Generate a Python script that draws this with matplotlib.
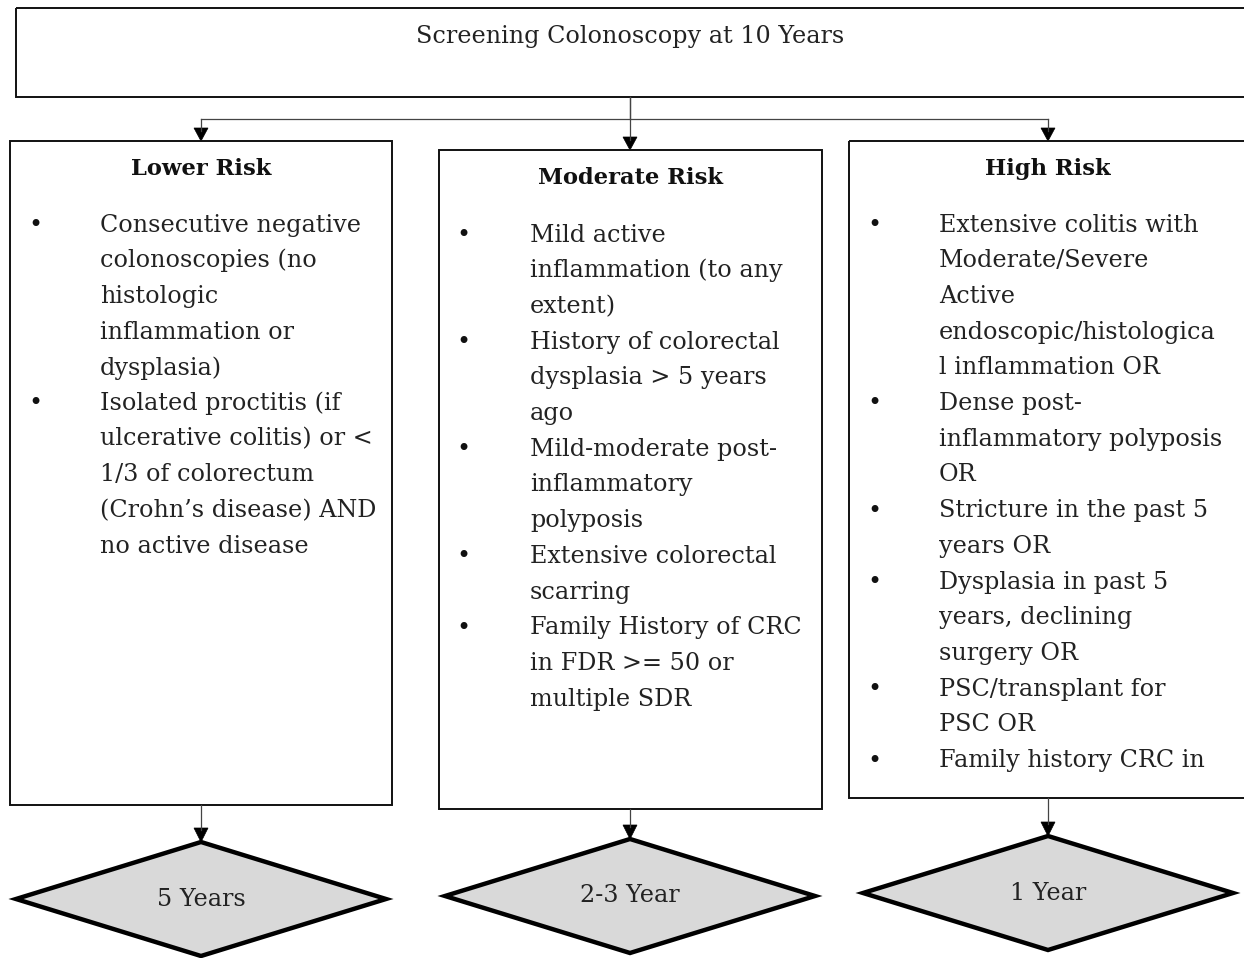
import matplotlib
matplotlib.use("Agg")
import matplotlib.pyplot as plt
from matplotlib.patches import Rectangle, Polygon

W, H = 1244, 958

top_label = "Screening Colonoscopy at 10 Years"
titles = ["Lower Risk", "Moderate Risk", "High Risk"]
intervals = ["5 Years", "2-3 Year", "1 Year"]

lower_items = [
    ["Consecutive negative", "colonoscopies (no", "histologic", "inflammation or", "dysplasia)"],
    ["Isolated proctitis (if", "ulcerative colitis) or <", "1/3 of colorectum", "(Crohn\u2019s disease) AND", "no active disease"],
]
moderate_items = [
    ["Mild active", "inflammation (to any", "extent)"],
    ["History of colorectal", "dysplasia > 5 years", "ago"],
    ["Mild-moderate post-", "inflammatory", "polyposis"],
    ["Extensive colorectal", "scarring"],
    ["Family History of CRC", "in FDR >= 50 or", "multiple SDR"],
]
high_items = [
    ["Extensive colitis with", "Moderate/Severe", "Active", "endoscopic/histologica", "l inflammation OR"],
    ["Dense post-", "inflammatory polyposis", "OR"],
    ["Stricture in the past 5", "years OR"],
    ["Dysplasia in past 5", "years, declining", "surgery OR"],
    ["PSC/transplant for", "PSC OR"],
    ["Family history CRC in"],
]
all_items = [lower_items, moderate_items, high_items]

# layout (pixels)
boxes = [(10, 141, 392, 805), (439, 150, 822, 809), (849, 141, 1250, 798)]
centers = [201, 630, 1048]
title_y = [169, 178, 169]
first_line_y = [225, 235, 225]
bullet_x = [35, 463, 874]
text_x = [100, 530, 939]
line_h = 35.7
diamonds = [(201, 899, 185, 57), (630, 896, 185, 57), (1048, 893, 185, 57)]

FONT = "DejaVu Serif"
FS = 17.2
FS_BOLD = 16.3

fig = plt.figure(figsize=(W / 100, H / 100), dpi=100)
ax = fig.add_axes([0, 0, 1, 1])
ax.set_xlim(0, W)
ax.set_ylim(H, 0)
ax.axis("off")

# top box
ax.add_patch(Rectangle((16, 8), 1240, 89, fill=False, ec="#111111", lw=1.4))
ax.text(630, 36, top_label, ha="center", va="center", fontsize=FS, family=FONT, color="#222222")

# connectors
ax.plot([630, 630], [97, 119], color="#444444", lw=0.9)
ax.plot([201, 1048], [119, 119], color="#444444", lw=0.9)
for i, cx in enumerate(centers):
    top = boxes[i][1]
    ax.plot([cx, cx], [119 if cx != 630 else 97, top - 10], color="#444444", lw=0.9)
    ax.add_patch(Polygon([[cx - 7, top - 13], [cx + 7, top - 13], [cx, top]], closed=True, fc="black", ec="black", lw=0.5))

for i in range(3):
    x0, y0, x1, y1 = boxes[i]
    ax.add_patch(Rectangle((x0, y0), x1 - x0, y1 - y0, fill=False, ec="#111111", lw=1.4))
    ax.text(centers[i], title_y[i], titles[i], ha="center", va="center", fontsize=FS_BOLD, family=FONT,
            fontweight="bold", color="#111111")
    y = first_line_y[i]
    for item in all_items[i]:
        ax.text(bullet_x[i], y, "\u2022", ha="center", va="center", fontsize=FS, family="DejaVu Sans", color="#111111")
        for line in item:
            ax.text(text_x[i], y, line, ha="left", va="center", fontsize=FS, family=FONT, color="#222222")
            y += line_h
    # arrow to diamond
    dcx, dcy, hw, hh = diamonds[i]
    ax.plot([dcx, dcx], [y1, dcy - hh - 12], color="#444444", lw=0.9)
    ax.add_patch(Polygon([[dcx - 7, dcy - hh - 14], [dcx + 7, dcy - hh - 14], [dcx, dcy - hh]], closed=True,
                         fc="black", ec="black", lw=0.5))
    ax.add_patch(Polygon([[dcx, dcy - hh], [dcx + hw, dcy], [dcx, dcy + hh], [dcx - hw, dcy]], closed=True,
                         fc="#d9d9d9", ec="black", lw=3.2, joinstyle="miter"))
    ax.text(dcx, dcy, intervals[i], ha="center", va="center", fontsize=FS, family=FONT, color="#222222")

fig.savefig("out.png", dpi=100)
